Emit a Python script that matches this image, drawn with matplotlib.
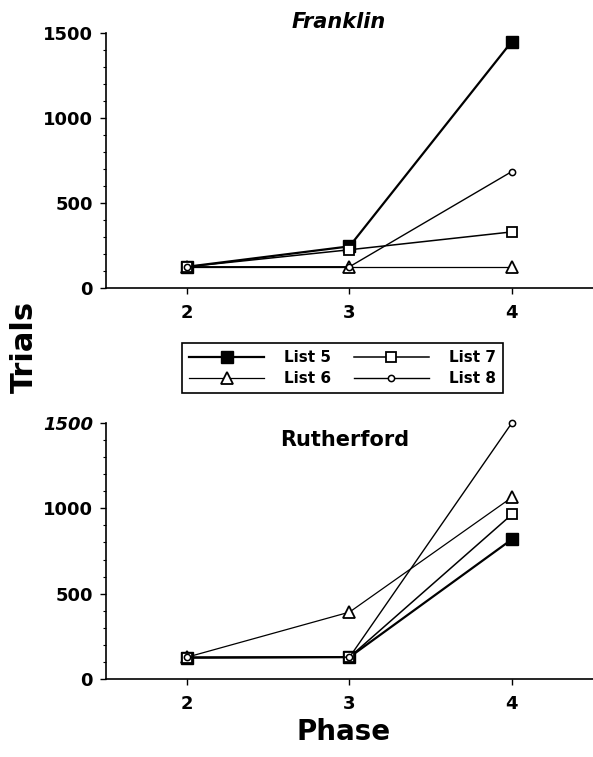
import matplotlib
matplotlib.use("Agg")
import matplotlib.pyplot as plt
from matplotlib.ticker import MultipleLocator

plt.rcParams['font.family'] = ['DejaVu Sans']
plt.rcParams['font.weight'] = 'bold'

phases = [2, 3, 4]
series_names = ["List 5", "List 6", "List 7", "List 8"]

franklin_list5 = [125, 245, 1450]
franklin_list6 = [125, 125, 125]
franklin_list7 = [125, 225, 330]
franklin_list8 = [125, 125, 685]

rutherford_list5 = [125, 128, 818]
rutherford_list6 = [128, 392, 1064]
rutherford_list7 = [125, 128, 964]
rutherford_list8 = [128, 128, 1500]

yticks = [0, 500, 1000, 1500]
xticks = [2, 3, 4]

styles = {
    "List 5": dict(marker='s', markersize=9, markerfacecolor='black', markeredgecolor='black', lw=1.6),
    "List 6": dict(marker='^', markersize=8, markerfacecolor='white', markeredgecolor='black', lw=0.9, markeredgewidth=1.3),
    "List 7": dict(marker='s', markersize=7, markerfacecolor='white', markeredgecolor='black', lw=1.1, markeredgewidth=1.3),
    "List 8": dict(marker='o', markersize=4.5, markerfacecolor='white', markeredgecolor='black', lw=1.0, markeredgewidth=1.1),
}

W, H = 593, 757
fig = plt.figure(figsize=(W / 100, H / 100), dpi=100)
ax1 = fig.add_axes([106 / W, (H - 288) / H, 487 / W, 255 / H])
ax2 = fig.add_axes([106 / W, (H - 679) / H, 487 / W, 256 / H])

franklin = [franklin_list5, franklin_list6, franklin_list7, franklin_list8]
rutherford = [rutherford_list5, rutherford_list6, rutherford_list7, rutherford_list8]

handles = []
for name, vals in zip(series_names, franklin):
    h, = ax1.plot(phases, vals, color='black', label=name, clip_on=False, **styles[name])
    handles.append(h)
for name, vals in zip(series_names, rutherford):
    ax2.plot(phases, vals, color='black', label=name, clip_on=False, **styles[name])

for ax in (ax1, ax2):
    ax.set_xlim(1.5, 4.5)
    ax.set_ylim(0, 1500)
    ax.set_xticks(xticks)
    ax.set_yticks(yticks)
    ax.yaxis.set_minor_locator(MultipleLocator(100))
    ax.spines['top'].set_visible(False)
    ax.spines['right'].set_visible(False)
    ax.spines['left'].set_linewidth(1.2)
    ax.spines['bottom'].set_linewidth(1.2)
    ax.tick_params(axis='both', which='major', labelsize=13, length=4.3, width=1)
    ax.tick_params(axis='y', which='minor', length=2, width=0.8)
    ax.tick_params(axis='x', pad=7)
    ax.tick_params(axis='y', pad=5)
    for lab in ax.get_xticklabels() + ax.get_yticklabels():
        lab.set_fontweight('bold')

# the top label of the lower panel is printed slanted in the source
ax2.get_yticklabels()[-1].set_fontstyle('italic')

def px(x, y):
    return x / W, 1 - y / H

fig.text(*px(339, 22), "Franklin", ha='center', va='center', fontsize=15, fontweight='bold', style='italic')
fig.text(*px(345, 440), "Rutherford", ha='center', va='center', fontsize=15, fontweight='bold')
fig.text(*px(24, 347), "Trials", rotation=90, ha='center', va='center', fontsize=22, fontweight='bold')
fig.text(*px(344, 732), "Phase", ha='center', va='center', fontsize=20, fontweight='bold')

leg = fig.legend(handles=handles, labels=series_names, ncol=2,
                 loc='center', bbox_to_anchor=px(342.5, 368),
                 handlelength=4.9, columnspacing=1.5, handletextpad=1.3,
                 labelspacing=0.4, borderpad=0.45, fancybox=False,
                 edgecolor='black', framealpha=1,
                 prop={'weight': 'bold', 'size': 11})
leg.get_frame().set_linewidth(1.2)

fig.savefig("out.png", dpi=100)
